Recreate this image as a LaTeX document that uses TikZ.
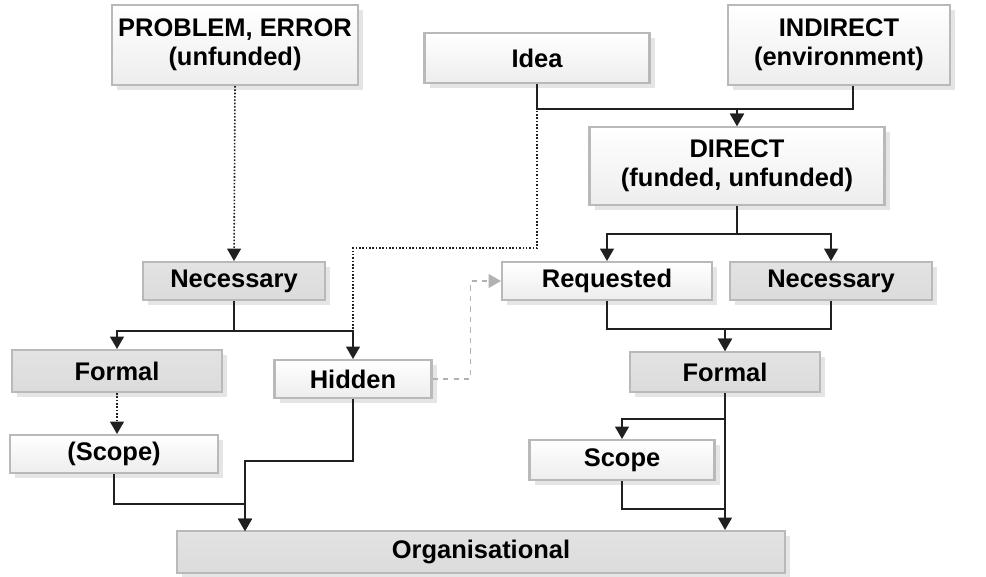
\documentclass[tikz,border=0pt]{standalone}
\usepackage{fontspec}
\setmainfont{Liberation Sans}
\usetikzlibrary{arrows,shadows,positioning}

\begin{document}
\begin{tikzpicture}[x=0.02cm,y=-0.02cm]

  \tikzset{box node/.style={rectangle, draw=gray!55, line width=1.2pt,
  		top color=white, bottom color=gray!14, text centered, align=center,
  		font=\fontsize{14.5}{16.5}\selectfont\bfseries,
  		drop shadow={shadow xshift=3pt, shadow yshift=-3pt, fill=gray!40}}, }
  \tikzset{grey node/.style={box node, top color=gray!22, bottom color=gray!28}, }
  \tikzset{link/.style={draw=gray!25!black, line width=0.9pt}, }
  \tikzset{linka/.style={link, -triangle 60}, }
  \tikzset{dotlink/.style={link, densely dotted}, }
  \tikzset{dashlink/.style={draw=gray!60, line width=0.9pt, dashed, -triangle 60}, }
\useasboundingbox (0,0) rectangle (986,576);
\node[box node, minimum width=4.92cm, minimum height=1.6cm] (problem) at (235,45) {PROBLEM, ERROR\\(unfunded)};
\node[box node, minimum width=4.5cm, minimum height=1cm] (idea) at (537,58) {Idea};
\node[box node, minimum width=4.44cm, minimum height=1.6cm] (indirect) at (839,45) {INDIRECT\\(environment)};
\node[box node, minimum width=5.9cm, minimum height=1.56cm] (direct) at (737,166) {DIRECT\\(funded, unfunded)};
\node[grey node, minimum width=3.64cm, minimum height=0.76cm] (necL) at (234,281) {Necessary};
\node[box node, minimum width=4.2cm, minimum height=0.76cm] (requested) at (607,281) {Requested};
\node[grey node, minimum width=4.04cm, minimum height=0.76cm] (necR) at (831,281) {Necessary};
\node[grey node, minimum width=4.2cm, minimum height=0.84cm] (formalL) at (117,371) {Formal};
\node[box node, minimum width=3.14cm, minimum height=0.76cm] (hidden) at (353,379) {Hidden};
\node[grey node, minimum width=3.8cm, minimum height=0.8cm] (formalR) at (725,372) {Formal};
\node[box node, minimum width=4.16cm, minimum height=0.76cm] (scopeL) at (114,454) {(Scope)};
\node[box node, minimum width=3.7cm, minimum height=0.8cm] (scopeR) at (622,460) {Scope};
\node[grey node, minimum width=12.16cm, minimum height=0.84cm] (org) at (481,552) {Organisational};
\coordinate (orgL) at (245,531);
%% left side
\draw[dotlink, -triangle 60] (problem.south) -- (necL.north);
\draw[link] (necL.south) -- ++(0,30) coordinate (j1);
\draw[linka] (j1) -| (formalL.north);
\draw[linka] (j1) -| (hidden.north);
\draw[dotlink, -triangle 60] (formalL.south) -- (formalL.south |- scopeL.north);
\draw[linka] (scopeL.south) -- ++(0,30) -| (orgL);
\draw[linka] (hidden.south) -- ++(0,62) -| (orgL);
%% top
\draw[linka] (idea.south) -- ++(0,25) -| (direct.north);
\draw[linka] (indirect.south) ++(14,0) -- ++(0,23) -| (direct.north);
\draw[dotlink] (idea.south) -- ++(0,164) -| (j1 -| hidden.north);
\draw[dashlink] (hidden.east) -- ++(38,0) |- (requested.west);
%% right side
\draw[link] (direct.south) -- ++(0,28) coordinate (j3);
\draw[linka] (j3) -| (requested.north);
\draw[linka] (j3) -| (necR.north);
\draw[linka] (requested.south) -- ++(0,28) -| (formalR.north);
\draw[linka] (necR.south) -- ++(0,28) -| (formalR.north);
\draw[linka] (formalR.south) -- (formalR.south |- org.north);
\draw[linka] (formalR.south) -- ++(0,26) -| (scopeR.north);
\draw[link] (scopeR.south) -- ++(0,28) -| (formalR.south);
%%
\end{tikzpicture}
\end{document}
